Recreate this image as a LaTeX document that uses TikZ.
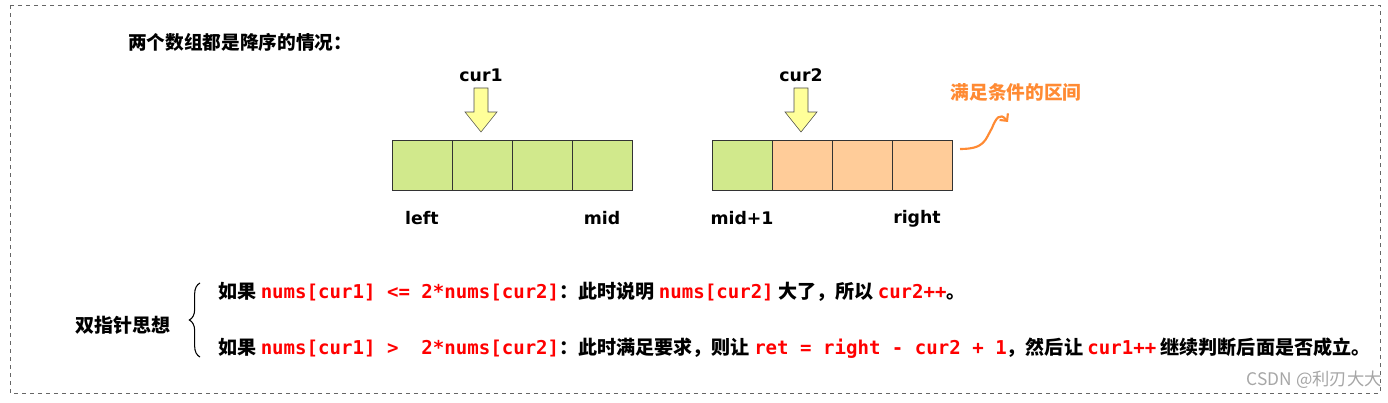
\documentclass[tikz,border=0pt]{standalone}
\usepackage{fontspec}
\setmainfont{DejaVu Sans}
\newfontfamily\cjk{Noto Sans CJK SC}
\newfontfamily\cmono{DejaVu Sans Mono}
\usetikzlibrary{arrows.meta,decorations.pathreplacing}
\definecolor{gcell}{HTML}{D1E98C}
\definecolor{ocell}{HTML}{FFCC99}
\definecolor{yarr}{HTML}{FFFF99}
\definecolor{orng}{HTML}{FF8A33}
\definecolor{cred}{HTML}{FF0000}
\newlength\pxu \setlength\pxu{0.75pt}
\tikzset{
 cellg/.style={draw=black!80,fill=gcell,minimum width=60\pxu,minimum height=50\pxu,inner sep=0,outer sep=0},
 cello/.style={draw=black!80,fill=ocell,minimum width=60\pxu,minimum height=50\pxu,inner sep=0,outer sep=0},
 lbl/.style={font=\bfseries\fontsize{13}{15}\selectfont,inner sep=0},
 txt/.style={font=\cjk\bfseries\fontsize{14.3}{17}\selectfont,anchor=west,inner sep=0},
 downarr/.style={draw=black!70,fill=yarr},
}
\newcommand\cd[1]{{\color{cred}\cmono\bfseries #1}}
\begin{document}
\begin{tikzpicture}[x=0.75pt,y=-0.75pt]
\useasboundingbox (0,0) rectangle (1388,403);
\draw[black!60,dashed] (10,5) rectangle (1380,393);
\node[font=\cjk\bfseries\fontsize{14}{17}\selectfont,anchor=west,inner sep=0] (title) at (128,42) {两个数组都是降序的情况：};
\foreach \i in {0,1,2,3}{\node[cellg] (a\i) at (422+60*\i,165) {};}
\node[cellg] (b0) at (742,165) {};
\foreach \i in {1,2,3}{\node[cello] (b\i) at (742+60*\i,165) {};}
\node[lbl] (cur1) at (481,75) {cur1};
\node[lbl] (cur2) at (801,75) {cur2};
\foreach \x/\n in {481/p1,801/p2}{
 \draw[downarr] (\x-7,88) -- (\x+7,88) -- (\x+7,112) -- (\x+16,112) -- (\x,132) -- (\x-16,112) -- (\x-7,112) -- cycle;
}
\node[lbl] (l) at (422,218) {left};
\node[lbl] (m) at (602,218) {mid};
\node[lbl] (m1) at (742,218) {mid+1};
\node[lbl,anchor=base] (r) at (917,223) {right};
\node[font=\cjk\bfseries\fontsize{14}{17}\selectfont,text=orng,inner sep=0] (zone) at (1016,92) {满足条件的区间};
\coordinate (cs) at (960,149);
\draw[orng,line width=1.6pt,-{Straight Barb[length=4pt]}] (cs) .. controls (985,149) and (985,140) .. (992,128) .. controls (996,118) and (1000,112) .. (1008,122);
\node[txt] (idea) at (75,325) {双指针思想};
\draw[decorate,decoration={brace,amplitude=8pt},thick] (200,357) -- (200,283);
\node[txt] (line1) at (218,292) {如果 \cd{nums[cur1] <= 2*nums[cur2]}：此时说明 \cd{nums[cur2]} 大了，所以 \cd{cur2++}。};
\node[txt] (line2) at (218,348) {如果 \cd{nums[cur1] >\ \ 2*nums[cur2]}：此时满足要求，则让 \cd{ret = right - cur2 + 1}，然后让 \cd{cur1++} 继续判断后面是否成立。};
\node[font=\cjk\fontsize{13}{15}\selectfont,text=black!35,anchor=east,inner sep=0] (wm) at (1382,380) {CSDN @利刃大大};
\end{tikzpicture}
\end{document}
